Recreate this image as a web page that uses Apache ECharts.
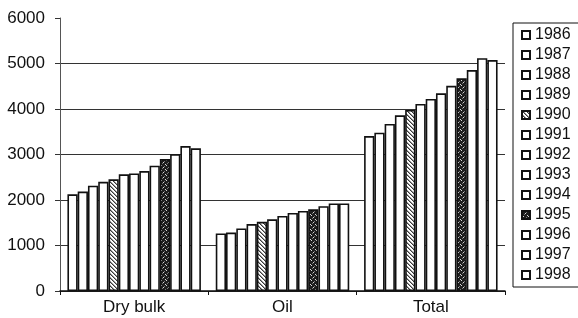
<!DOCTYPE html>
<html>
<head>
<meta charset="utf-8">
<script src="https://cdn.jsdelivr.net/npm/echarts@6/dist/echarts.min.js"></script>
<style>
  html, body { margin: 0; padding: 0; background: #fff; }
  #chart { width: 578px; height: 318px; }
</style>
</head>
<body>
<div id="chart"></div>
<script>
// ---- data ----
var categories = ['Dry bulk', 'Oil', 'Total'];
var years = ['1986', '1987', '1988', '1989', '1990', '1991', '1992', '1993', '1994', '1995', '1996', '1997', '1998'];
var dryBulk = [2125, 2185, 2315, 2400, 2455, 2565, 2585, 2635, 2755, 2900, 3005, 3185, 3135];
var oil     = [1265, 1285, 1375, 1470, 1520, 1575, 1650, 1715, 1760, 1795, 1865, 1925, 1925];
var total   = [3405, 3480, 3670, 3860, 3980, 4110, 4220, 4345, 4510, 4675, 4855, 5115, 5075];
var yTicks  = [0, 1000, 2000, 3000, 4000, 5000, 6000];

// ---- patterns ----
function makeHatch() {
  var c = document.createElement('canvas');
  c.width = 4; c.height = 4;
  var g = c.getContext('2d');
  g.fillStyle = '#ffffff'; g.fillRect(0, 0, 4, 4);
  g.fillStyle = '#3a3a3a';
  for (var x = 0; x < 4; x++) for (var y = 0; y < 4; y++) {
    var d = ((x - y) % 4 + 4) % 4;
    if (d === 0) g.fillRect(x, y, 1, 1);
  }
  g.fillStyle = '#9a9a9a';
  for (var x2 = 0; x2 < 4; x2++) for (var y2 = 0; y2 < 4; y2++) {
    var d2 = ((x2 - y2) % 4 + 4) % 4;
    if (d2 === 1) g.fillRect(x2, y2, 1, 1);
  }
  return { image: c, repeat: 'repeat' };
}
function makeStipple() {
  var c = document.createElement('canvas');
  c.width = 5; c.height = 5;
  var g = c.getContext('2d');
  g.fillStyle = '#1e1e1e'; g.fillRect(0, 0, 5, 5);
  g.fillStyle = '#d8d8d8';
  g.fillRect(1, 0, 1, 1);
  g.fillRect(3, 2, 1, 1);
  g.fillRect(0, 4, 1, 1);
  g.fillStyle = '#777';
  g.fillRect(4, 1, 1, 1);
  g.fillRect(2, 3, 1, 1);
  return { image: c, repeat: 'repeat' };
}
var hatch = makeHatch();
var stipple = makeStipple();

var series = years.map(function (yr, i) {
  var fill = '#ffffff';
  if (yr === '1990') fill = hatch;
  if (yr === '1995') fill = stipple;
  return {
    name: yr,
    type: 'bar',
    barGap: '0%',
    barCategoryGap: '10%',
    data: [dryBulk[i], oil[i], total[i]],
    itemStyle: { color: fill, borderColor: '#111', borderWidth: 1.6 },
    emphasis: { disabled: true },
    animation: false
  };
});

var chart = echarts.init(document.getElementById('chart'), null, { renderer: 'canvas' });
chart.setOption({
  animation: false,
  backgroundColor: '#ffffff',
  textStyle: { fontFamily: '"Liberation Sans", Arial, sans-serif' },
  grid: { left: 60, right: 73, top: 18, bottom: 27 },
  legend: {
    orient: 'vertical',
    left: 513,
    top: 23,
    padding: [4, 40, 4, 8],
    itemWidth: 8,
    itemHeight: 8,
    itemGap: 4,
    itemTextGap: 3,
    icon: 'rect',
    borderColor: '#111',
    borderWidth: 1,
    data: years,
    textStyle: { fontSize: 16, color: '#111', fontFamily: '"Liberation Sans", Arial, sans-serif', lineHeight: 16 }
  },
  xAxis: {
    type: 'category',
    data: categories,
    axisLine: { lineStyle: { color: '#111', width: 1.5 } },
    axisTick: { show: true, length: 4, lineStyle: { color: '#111' } },
    axisLabel: { fontSize: 17, color: '#111', margin: 8 },
    splitLine: { show: false }
  },
  yAxis: {
    type: 'value',
    min: yTicks[0],
    max: yTicks[yTicks.length - 1],
    interval: yTicks[1] - yTicks[0],
    axisLine: { show: true, lineStyle: { color: '#555', width: 1 } },
    axisTick: { show: true, length: 5, lineStyle: { color: '#333' } },
    axisLabel: { fontSize: 17, color: '#111', margin: 15, formatter: function (v) { return String(v); } },
    splitLine: {
      show: true,
      lineStyle: { color: ['#333', '#333', '#333', '#333', '#333', '#333', 'rgba(0,0,0,0)'], width: 1 }
    }
  },
  series: series
});
</script>
</body>
</html>
